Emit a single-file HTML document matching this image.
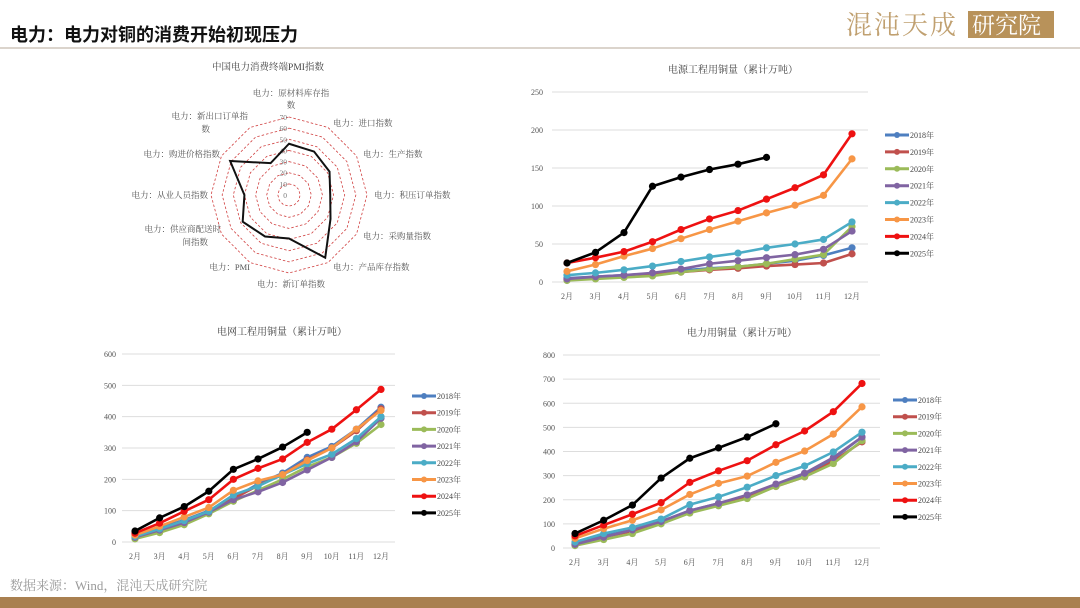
<!DOCTYPE html>
<html><head><meta charset="utf-8"><style>
html,body{margin:0;padding:0;background:#fff;width:1080px;height:608px;overflow:hidden}
svg{display:block}
text{font-family:"Liberation Serif","Noto Serif CJK SC",serif}
</style></head><body>
<svg id="s" width="1080" height="608" viewBox="0 0 1080 608" xmlns="http://www.w3.org/2000/svg">
<text x="10" y="41" font-size="18" font-weight="bold" fill="#111" style="font-family:'Liberation Sans','Noto Sans CJK SC',sans-serif">电力：电力对铜的消费开始初现压力</text>
<text x="846" y="34" font-size="26" fill="#c0a070" letter-spacing="2">混沌天成</text>
<rect x="968" y="11" width="86" height="27" fill="#b8925a"/>
<text x="972" y="33" font-size="23" fill="#fff">研究院</text>
<line x1="0" y1="48" x2="1080" y2="48" stroke="#cfc6bb" stroke-width="1.5"/>
<text x="10" y="590" font-size="13" fill="#999">数据来源：Wind，混沌天成研究院</text>
<rect x="0" y="597" width="1080" height="11" fill="#a98050"/>
</svg>
<script>
var s=document.getElementById('s'),NS='http://www.w3.org/2000/svg';
function el(t,a,txt){var e=document.createElementNS(NS,t);for(var k in a)e.setAttribute(k,a[k]);if(txt!=null)e.textContent=txt;s.appendChild(e);return e;}
var cols=['#4e7fc0','#c0504d','#9bbb59','#8064a2','#4bacc6','#f79646','#ee1111','#000000'];
var yrs=['2018年','2019年','2020年','2021年','2022年','2023年','2024年','2025年'];
var mons=['2月','3月','4月','5月','6月','7月','8月','9月','10月','11月','12月'];
function chart(c){
 el('text',{x:c.tx,y:c.ty,'font-size':10,fill:'#444','text-anchor':'middle'},c.title);
 for(var v=0;v<=c.max;v+=c.step){var y=c.y0-(c.y0-c.y1)*v/c.max;
  el('line',{x1:c.gx0,x2:c.gx1,y1:y,y2:y,stroke:'#ddd','stroke-width':1});
  el('text',{x:c.lx,y:y+3,'font-size':8,fill:'#555','text-anchor':'end'},v);}
 for(var i=0;i<11;i++)el('text',{x:c.x0+i*c.dx,y:c.y0+17,'font-size':8,fill:'#555','text-anchor':'middle'},mons[i]);
 c.d.forEach(function(arr,j){var p=arr.map(function(v,i){return [c.x0+i*c.dx,c.y0-(c.y0-c.y1)*v/c.max]});
  el('polyline',{points:p.map(function(q){return q.join(',')}).join(' '),fill:'none',stroke:cols[j],'stroke-width':2.6,'stroke-linejoin':'round'});
  p.forEach(function(q){el('circle',{cx:q[0],cy:q[1],r:3.6,fill:cols[j]})});
  var ly=c.ly+j*c.lstep;
  el('line',{x1:c.lgx,x2:c.lgx+24,y1:ly,y2:ly,stroke:cols[j],'stroke-width':3});
  el('circle',{cx:c.lgx+12,cy:ly,r:3,fill:cols[j]});
  el('text',{x:c.lgx+25,y:ly+3,'font-size':8,fill:'#444'},yrs[j]);});
}
chart({title:'电源工程用铜量（累计万吨）',tx:733,ty:73,max:250,step:50,y0:282,y1:92,gx0:552,gx1:868,lx:543,x0:567,dx:28.5,ly:135,lstep:16.9,lgx:885,d:[
[5,7,9,11,15,18,20,24,28,35,45],[3,5,7,9,13,16,18,21,23,25,37],[2,4,6,8,13,17,20,24,30,36,73],[4,7,9,12,17,24,28,32,36,43,67],
[9,12,16,21,27,33,38,45,50,56,79],[14,23,34,44,57,69,80,91,101,114,162],[25,32,40,53,69,83,94,109,124,141,195],[25,39,65,126,138,148,155,164]]});
chart({title:'电网工程用铜量（累计万吨）',tx:282,ty:335,max:600,step:100,y0:542,y1:354,gx0:122,gx1:395,lx:116,x0:135,dx:24.6,ly:396,lstep:16.7,lgx:412,d:[
[25,45,70,100,140,185,220,270,305,360,430],[20,42,68,98,138,180,215,262,300,355,425],[10,30,55,90,130,165,200,240,270,315,375],[15,38,62,95,135,160,190,230,270,320,395],
[18,42,68,98,150,178,215,250,280,330,400],[22,50,80,110,165,195,215,260,300,360,420],[28,60,98,135,200,235,265,318,360,422,487],[35,77,113,162,232,265,303,350]]});
chart({title:'电力用铜量（累计万吨）',tx:742,ty:336,max:800,step:100,y0:548,y1:355,gx0:563,gx1:880,lx:555,x0:575,dx:28.7,ly:400,lstep:16.7,lgx:893,d:[
[20,50,75,110,155,185,215,260,300,370,460],[15,45,70,105,150,180,210,255,295,360,440],[10,35,60,100,145,175,205,255,295,350,445],[15,45,75,110,155,185,220,265,310,375,460],
[25,60,85,120,180,212,252,300,340,398,480],[40,80,115,158,222,268,298,355,402,472,585],[50,95,140,188,272,320,362,428,485,565,682],[60,115,178,290,372,415,460,515]]});
var cx=289,cy=195,R=78/70;
el('text',{x:268,y:70,'font-size':9.5,fill:'#444','text-anchor':'middle'},'中国电力消费终端PMI指数');
for(var g=10;g<=70;g+=10){var pts=[];for(var k=0;k<12;k++){var a=k*Math.PI/6;pts.push((cx+Math.sin(a)*g*R)+','+(cy-Math.cos(a)*g*R));}
 el('polygon',{points:pts.join(' '),fill:'none',stroke:'#d04040','stroke-width':0.8,'stroke-dasharray':'2.5,2'});}
for(var g=0;g<=70;g+=10)el('text',{x:cx-2,y:cy-g*R+3,'font-size':7.5,fill:'#777','text-anchor':'end'},g);
var vals=[46,45,42,37,43,65,39,43,48,40,61,33],pp=[];
vals.forEach(function(v,k){var a=k*Math.PI/6;pp.push((cx+Math.sin(a)*v*R)+','+(cy-Math.cos(a)*v*R));});
el('polygon',{points:pp.join(' '),fill:'none',stroke:'#111','stroke-width':2});
var labs=[[291,96,'电力：原材料库存指','middle'],[291,108,'数','middle'],[333,126,'电力：进口指数','start'],[363,157,'电力：生产指数','start'],[374,198,'电力：积压订单指数','start'],[363,239,'电力：采购量指数','start'],[333,270,'电力：产品库存指数','start'],
[291,287,'电力：新订单指数','middle'],[250,270,'电力：PMI','end'],[221,232,'电力：供应商配送时','end'],[208,245,'间指数','end'],[208,198,'电力：从业人员指数','end'],[220,157,'电力：购进价格指数','end'],[248,119,'电力：新出口订单指','end'],[210,132,'数','end']];
labs.forEach(function(l){el('text',{x:l[0],y:l[1],'font-size':8.5,fill:'#555','text-anchor':l[3]},l[2]);});
</script>
</body></html>
